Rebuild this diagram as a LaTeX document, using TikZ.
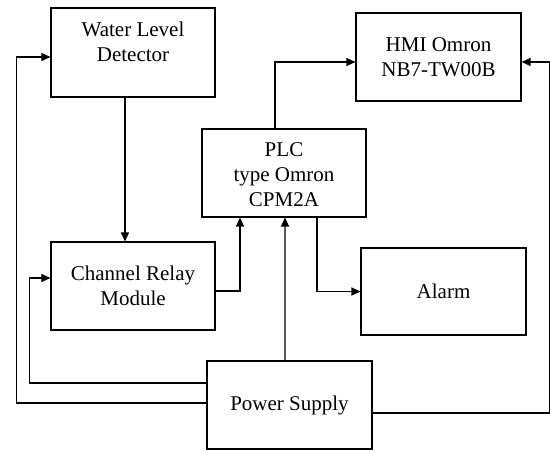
\documentclass[tikz,border=0pt]{standalone}
\usepackage{fontspec}
\setmainfont{Liberation Serif}
\usetikzlibrary{arrows.meta,positioning}
\tikzset{
  blockbox/.style={
    draw=black,
    line width=1.1bp,
    align=center,
    minimum width=164bp,
    minimum height=88bp,
    inner sep=3pt,
    font=\fontsize{21bp}{25bp}\selectfont
  },
  blocktext/.style={
    align=center,
    inner sep=0pt,
    font=\fontsize{21bp}{25bp}\selectfont
  },
  flowarrow/.style={
    -{Triangle[length=9bp,width=8bp]},
    line width=1.1bp
  }
}
\begin{document}
\begin{tikzpicture}[x=1bp,y=1bp]
  \useasboundingbox (0,0) rectangle (550,452);
  % blocks
  \node[blockbox, minimum height=89bp] (detector) at (133,399.5) {};
  \node[blocktext, below=14bp of detector.north] (detectortext) {Water Level\\Detector};
  \node[blockbox, minimum width=165bp] (hmi) at (438.5,395) {HMI Omron\\NB7-TW00B};
  \node[blockbox] (plc) at (284,279) {};
  \node[blocktext, below=14bp of plc.north] (plctext) {PLC\\type Omron\\CPM2A};
  \node[blockbox] (relay) at (133,166) {Channel Relay\\Module};
  \node[blockbox, minimum width=165bp, minimum height=87bp] (alarm) at (443.5,160.5) {Alarm};
  \node[blockbox, minimum width=165bp] (power) at (289.5,47) {Power Supply};
  % signal lines
  \draw[flowarrow] ([xshift=-8bp]detector.south) -- ([xshift=-8bp]relay.north);
  \draw[flowarrow] ([yshift=-5bp]relay.east) -| ([xshift=-44bp]plc.south);
  \draw[flowarrow] ([xshift=-9bp]plc.north) |- ([yshift=-5bp]hmi.west);
  \draw[flowarrow] ([xshift=33bp]plc.south) |- (alarm.west);
  % supply lines
  \draw[flowarrow] ([xshift=-4.5bp]power.north) -- ([xshift=1bp]plc.south);
  \draw[flowarrow] ([yshift=22bp]power.west) -- ++(-177,0) |- ([yshift=8bp]relay.west);
  \draw[flowarrow] ([yshift=2bp]power.west) -- ++(-190,0) |- ([yshift=-4.5bp]detector.west);
  \draw[flowarrow] ([yshift=-8bp]power.east) -- ++(177,0) |- ([yshift=-5bp]hmi.east);
\end{tikzpicture}
\end{document}
